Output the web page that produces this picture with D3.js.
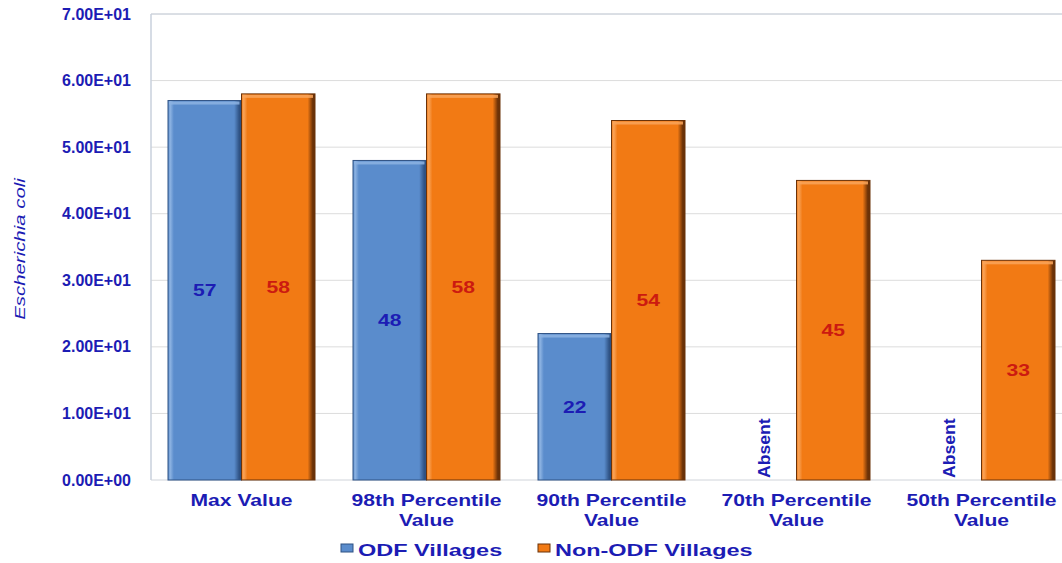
<!DOCTYPE html>
<html>
<head>
<meta charset="utf-8">
<script src="https://cdn.jsdelivr.net/npm/d3@7"></script>
<style>
  html, body { margin: 0; padding: 0; background: #ffffff; }
  svg { display: block; font-family: Arial, "Liberation Sans", sans-serif; }
</style>
</head>
<body>
<svg id="chart" width="1062" height="563"></svg>
<script>
// Category labels (multi-line) and series values
const categories = [
  ["Max Value"],
  ["98th Percentile", "Value"],
  ["90th Percentile", "Value"],
  ["70th Percentile", "Value"],
  ["50th Percentile", "Value"]
];
const seriesNames = ["ODF Villages", "Non-ODF Villages"];
const odfValues = [57, 48, 22, null, null];      // null = not detected
const nonOdfValues = [58, 58, 54, 45, 33];
const yTicks = [0, 10, 20, 30, 40, 50, 60, 70];
const absentLabel = "Absent";

const svg = d3.select("#chart");
const plotLeft = 151, plotTop = 14, plotBottom = 480;
const bandStep = 185;
const bandStart = 149;
const plotRight = bandStart + bandStep * categories.length;

const textBlue = "#1c1cb4";
const wide = 1.32; // horizontal stretch of the bold label lettering
const colors = {
  odf: { fill: "#5a8ccc", light: "#8db3e2", dark: "#2f5284" },
  non: { fill: "#f27a14", light: "#f9a45a", dark: "#6b3208" }
};

const y = d3.scaleLinear().domain([0, 70]).range([plotBottom, plotTop]);
const x0 = d3.scaleBand().domain(d3.range(categories.length)).range([bandStart, plotRight]);
const pairWidth = 147;
const x1 = d3.scaleBand().domain([0, 1]).range([-pairWidth / 2, pairWidth / 2]);
const center = i => x0(i) + x0.bandwidth() / 2;

// gradients for the bevelled bar look
const defs = svg.append("defs");
Object.entries(colors).forEach(([k, c]) => {
  const g = defs.append("linearGradient").attr("id", "grad-" + k)
    .attr("x1", "0").attr("x2", "1").attr("y1", "0").attr("y2", "0");
  g.append("stop").attr("offset", "0").attr("stop-color", c.fill);
  g.append("stop").attr("offset", "0.03").attr("stop-color", c.light);
  g.append("stop").attr("offset", "0.08").attr("stop-color", c.fill);
  g.append("stop").attr("offset", "0.9").attr("stop-color", c.fill);
  g.append("stop").attr("offset", "0.97").attr("stop-color", c.dark);
  g.append("stop").attr("offset", "1").attr("stop-color", c.dark);
});

// gridlines
svg.append("g")
  .selectAll("line").data(yTicks.slice(1)).join("line")
  .attr("x1", plotLeft).attr("x2", plotRight + 20)
  .attr("y1", d => y(d)).attr("y2", d => y(d))
  .attr("stroke", "#dcdcdc").attr("stroke-width", 1);

// plot frame (top and left)
svg.append("line").attr("x1", plotLeft).attr("x2", plotRight + 20).attr("y1", plotTop).attr("y2", plotTop)
  .attr("stroke", "#c8d0dc");
svg.append("line").attr("x1", plotLeft).attr("x2", plotLeft).attr("y1", plotTop).attr("y2", plotBottom)
  .attr("stroke", "#c8d0dc").attr("stroke-width", 1.5);
svg.append("line").attr("x1", plotLeft).attr("x2", plotRight + 20).attr("y1", plotBottom).attr("y2", plotBottom)
  .attr("stroke", "#d0d4da");

// y axis tick labels
const yAxis = d3.axisLeft(y).tickValues(yTicks).tickSize(0).tickPadding(0)
  .tickFormat(d => d3.format(".2e")(d).replace(/e([+-])(\d)$/, "E$10$2").replace("e", "E"));
const yg = svg.append("g").attr("transform", `translate(131,0)`).call(yAxis);
yg.select(".domain").remove();
yg.selectAll("text")
  .attr("fill", textBlue).attr("font-size", 16).attr("font-weight", "bold")
  .attr("font-family", "Arial, 'Liberation Sans', sans-serif");

// y axis title
svg.append("text")
  .attr("transform", `translate(25,249) rotate(-90) scale(1.36,1)`)
  .attr("text-anchor", "middle")
  .attr("fill", textBlue).attr("font-size", 15).attr("font-style", "italic")
  .text("Escherichia coli");

// bars
const rows = categories.map((c, i) => ({ i, vals: [odfValues[i], nonOdfValues[i]] }));
const groups = svg.append("g").selectAll("g").data(rows).join("g")
  .attr("transform", d => `translate(${center(d.i)},0)`);

const keys = ["odf", "non"];
groups.each(function (d) {
  const g = d3.select(this);
  d.vals.forEach((v, s) => {
    const bx = x1(s), bw = x1.bandwidth();
    if (v == null) {
      g.append("text")
        .attr("transform", `translate(${bx + bw / 2 + 10},${plotBottom - 2}) rotate(-90) scale(1.1,1)`)
        .attr("fill", textBlue).attr("font-size", 16).attr("font-weight", "bold")
        .text(absentLabel);
      return;
    }
    const c = colors[keys[s]];
    const top = y(v), h = plotBottom - top;
    g.append("rect").attr("x", bx).attr("y", top).attr("width", bw).attr("height", h)
      .attr("fill", `url(#grad-${keys[s]})`)
      .attr("stroke", c.dark).attr("stroke-width", 1);
    // bevel highlight along the top edge
    g.append("rect").attr("x", bx + 1).attr("y", top + 1).attr("width", bw - 3).attr("height", 3)
      .attr("fill", c.light).attr("opacity", 0.85);
    // value label in the middle of the bar
    g.append("text")
      .attr("transform", `translate(${bx + bw / 2},${top + h / 2 + 6}) scale(${wide},1)`)
      .attr("text-anchor", "middle")
      .attr("fill", s === 0 ? textBlue : "#cc1a10")
      .attr("font-size", 16).attr("font-weight", "bold")
      .text(v);
  });
});

// category labels
svg.append("g").selectAll("text").data(categories).join("text")
  .attr("text-anchor", "middle")
  .attr("fill", textBlue).attr("font-size", 16).attr("font-weight", "bold")
  .attr("transform", (d, i) => `translate(${center(i)},506) scale(${wide},1)`)
  .each(function (d) {
    const t = d3.select(this);
    d.forEach((line, k) => {
      t.append("tspan").attr("x", 0).attr("dy", k === 0 ? 0 : 20).text(line);
    });
  });

// legend
const legend = [
  { name: seriesNames[0], key: "odf", x: 341 },
  { name: seriesNames[1], key: "non", x: 538 }
];
const lg = svg.append("g").selectAll("g").data(legend).join("g")
  .attr("transform", d => `translate(${d.x},550)`);
lg.append("rect").attr("x", 0).attr("y", -6).attr("width", 12).attr("height", 8)
  .attr("fill", d => colors[d.key].fill).attr("stroke", d => colors[d.key].dark).attr("stroke-width", 1);
lg.append("text")
  .attr("transform", `translate(17,6) scale(1.38,1)`)
  .attr("fill", textBlue).attr("font-size", 17).attr("font-weight", "bold")
  .text(d => d.name);
</script>
</body>
</html>
